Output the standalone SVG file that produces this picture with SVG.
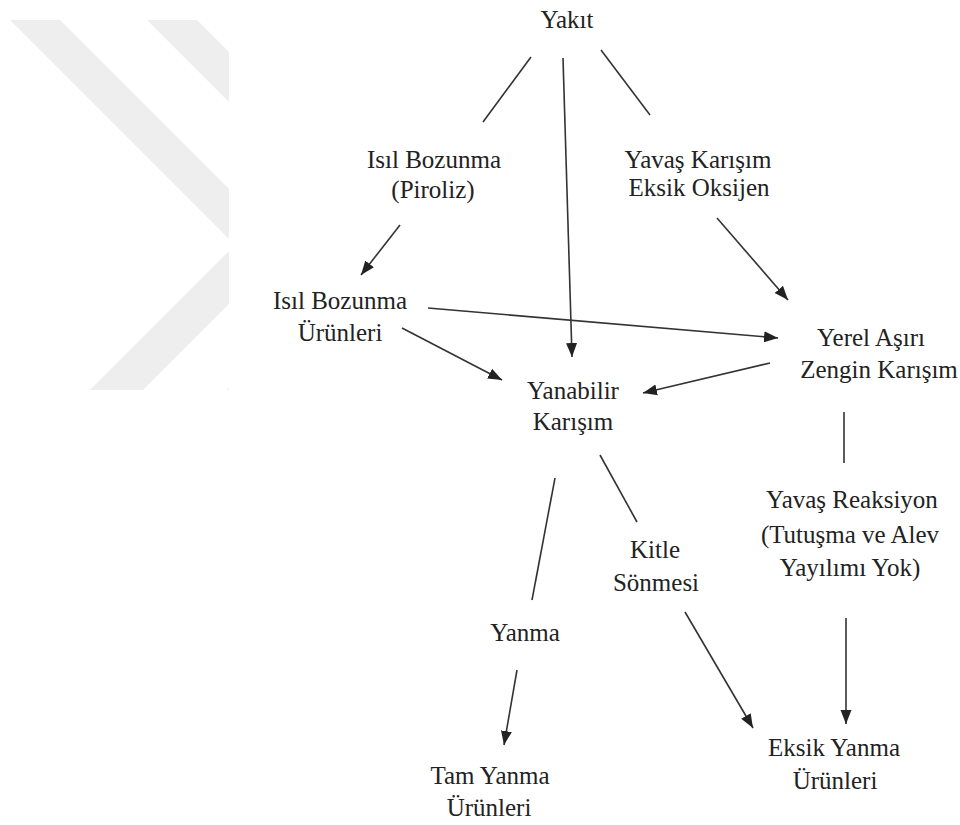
<svg xmlns="http://www.w3.org/2000/svg" width="960" height="825" viewBox="0 0 960 825">
<style>
  .t text { font-size: 25px; fill: #222; text-anchor: middle; }
  .c line { stroke: #333; stroke-width: 1.6; fill: none; }
  .a { marker-end: url(#ah); }
  .wm { fill: #eeeeee; }
</style>
<defs>
  <marker id="ah" markerUnits="userSpaceOnUse" markerWidth="15" markerHeight="12" refX="14" refY="6" orient="auto">
    <path d="M0,0.5 L14,6 L0,11.5 z" fill="#222"/>
  </marker>
  <clipPath id="wmclip"><rect x="0" y="20" width="229" height="370"/></clipPath>
</defs>
<rect x="0" y="0" width="960" height="825" fill="#ffffff"/>
<g id="watermark" clip-path="url(#wmclip)">
  <polygon class="wm" points="10,20 60,20 290,250 240,250"/>
  <polygon class="wm" points="90,390 143,390 293,240 240,240"/>
  <polygon class="wm" points="147,20 197,20 400,223 350,223"/>
  <polygon class="wm" points="227,390 277,390 467,200 417,200"/>
</g>
<g id="connectors" class="c">
  <line x1="531" y1="57" x2="483" y2="122"/>
  <line class="a" x1="563" y1="58" x2="572" y2="357"/>
  <line x1="601" y1="50" x2="650" y2="115"/>
  <line class="a" x1="400" y1="225" x2="361" y2="275"/>
  <line class="a" x1="717" y1="218" x2="788" y2="300"/>
  <line class="a" x1="428" y1="308" x2="778" y2="338"/>
  <line class="a" x1="402" y1="328" x2="502" y2="380"/>
  <line class="a" x1="770" y1="363" x2="643" y2="393"/>
  <line x1="844" y1="412" x2="844" y2="463"/>
  <line x1="555" y1="478" x2="532" y2="600"/>
  <line x1="600" y1="455" x2="637" y2="522"/>
  <line class="a" x1="517" y1="670" x2="504" y2="745"/>
  <line class="a" x1="685" y1="612" x2="753" y2="728"/>
  <line class="a" x1="846" y1="618" x2="846" y2="724"/>
</g>
<g class="t" font-family="Liberation Serif, serif">
<g id="yakit"><text x="567" y="28">Yakıt</text></g>
<g id="piroliz"><text x="434" y="168">Isıl Bozunma</text><text x="433" y="198">(Piroliz)</text></g>
<g id="yavas-karisim"><text x="698" y="168">Yavaş Karışım</text><text x="699" y="196">Eksik Oksijen</text></g>
<g id="isil-urunleri"><text x="340" y="309">Isıl Bozunma</text><text x="340" y="341">Ürünleri</text></g>
<g id="yerel"><text x="871" y="346">Yerel Aşırı</text><text x="879" y="378">Zengin Karışım</text></g>
<g id="yanabilir"><text x="573" y="399">Yanabilir</text><text x="573" y="430">Karışım</text></g>
<g id="yavas-reaksiyon"><text x="852" y="508">Yavaş Reaksiyon</text><text x="850" y="543">(Tutuşma ve Alev</text><text x="850" y="576">Yayılımı Yok)</text></g>
<g id="kitle"><text x="655" y="558">Kitle</text><text x="656" y="591">Sönmesi</text></g>
<g id="yanma"><text x="525" y="641">Yanma</text></g>
<g id="tam-yanma"><text x="490" y="784">Tam Yanma</text><text x="489" y="816">Ürünleri</text></g>
<g id="eksik-yanma"><text x="834" y="756">Eksik Yanma</text><text x="835" y="789">Ürünleri</text></g>
</g>
</svg>
